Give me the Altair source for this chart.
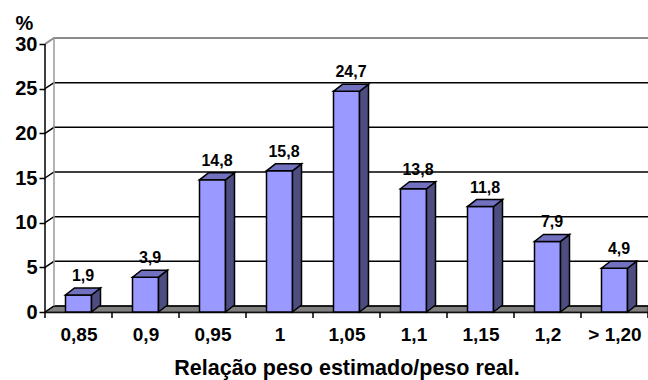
import json

import altair as alt
import pandas as pd

# Distribution of the estimated/real weight ratio (%)
categories = ["0,85", "0,9", "0,95", "1", "1,05", "1,1", "1,15", "1,2", "> 1,20"]
percent = [1.9, 3.9, 14.8, 15.8, 24.7, 13.8, 11.8, 7.9, 4.9]
y_ticks = [0, 5, 10, 15, 20, 25, 30]

FONT = "Liberation Sans"
FRONT = "#9999FF"
TOP = "#7171C0"
SIDE = "#4D4D80"
FLOOR = "#808080"

# Plot area and pseudo-3D depth, expressed through the scales
PLOT_W, PLOT_H = 603, 274
N = len(categories)
PX_X = PLOT_W / N          # pixels per category band
PX_Y = 268 / 30            # pixels per percentage point
Y_MAX = PLOT_H / PX_Y


def ux(px):
    return px / PX_X


def uy(px):
    return px / PX_Y


BAR_HALF = ux(13)
BAR_DX, BAR_DY = ux(9), uy(7)
WALL_DX, WALL_DY = ux(9), uy(6)

centers = [i + 0.5 for i in range(N)]

front = pd.DataFrame({
    "x": [c - BAR_HALF for c in centers],
    "x2": [c + BAR_HALF for c in centers],
    "lo": [0.0] * N,
    "hi": percent,
})

side_rows, top_rows = [], []
for i, (c, v) in enumerate(zip(centers, percent)):
    xl, xr = c - BAR_HALF, c + BAR_HALF
    side_rows += [
        {"bar": i, "x": xr, "lo": 0.0, "hi": v},
        {"bar": i, "x": xr + BAR_DX, "lo": BAR_DY, "hi": v + BAR_DY},
    ]
    top_rows += [
        {"bar": i, "x": xl, "lo": v, "hi": v},
        {"bar": i, "x": xl + BAR_DX, "lo": v, "hi": v + BAR_DY},
        {"bar": i, "x": xr, "lo": v, "hi": v + BAR_DY},
        {"bar": i, "x": xr + BAR_DX, "lo": v + BAR_DY, "hi": v + BAR_DY},
    ]
side = pd.DataFrame(side_rows)
top = pd.DataFrame(top_rows)

labels = pd.DataFrame({
    "x": [c + BAR_DX / 2 for c in centers],
    "y": [v + BAR_DY for v in percent],
    "text": [f"{v:.1f}".replace(".", ",") for v in percent],
})

grid_rows = []
for lvl in y_ticks:
    grid_rows += [
        {"lvl": lvl, "k": 0, "x": 0.0, "y": float(lvl)},
        {"lvl": lvl, "k": 1, "x": WALL_DX, "y": lvl + WALL_DY},
        {"lvl": lvl, "k": 2, "x": float(N), "y": lvl + WALL_DY},
    ]
grid = pd.DataFrame(grid_rows)
grid["top"] = grid["lvl"] == max(y_ticks)

floor = pd.DataFrame({
    "x": [0.0, WALL_DX, float(N)],
    "lo": [0.0, 0.0, 0.0],
    "hi": [0.0, WALL_DY, WALL_DY],
})

wall_edge = pd.DataFrame({
    "x": [WALL_DX, WALL_DX],
    "y": [WALL_DY, max(y_ticks) + WALL_DY],
    "k": [0, 1],
})

y_axis_line = pd.DataFrame({"x": [0.0], "y": [0.0], "y2": [float(max(y_ticks))]})
x_ticks = pd.DataFrame({"x": [float(i) for i in range(N + 1)]})

xs = alt.Scale(domain=[0, N], nice=False, zero=False)
ys = alt.Scale(domain=[0, Y_MAX], nice=False, zero=False)

label_expr = json.dumps(categories) + "[floor(datum.value)]"

x_axis = alt.Axis(
    values=centers, labelExpr=label_expr, ticks=False, tickSize=0,
    domain=True, domainColor="black", domainWidth=1.5, grid=False,
    labelFont=FONT, labelFontSize=19, labelFontWeight="bold", labelColor="black",
    labelPadding=13, labelFlush=False, labelOverlap=False,
    title="Relação peso estimado/peso real.", titleFont=FONT, titleFontSize=21.5,
    titleFontWeight="bold", titleColor="black", titleY=62,
    titleBaseline="alphabetic",
)
y_axis = alt.Axis(
    values=y_ticks, tickSize=6, tickColor="black", tickWidth=1.5,
    domain=False, grid=False,
    labelFont=FONT, labelFontSize=20, labelFontWeight="bold", labelColor="black",
    labelPadding=2, labelFlush=False,
    title="%", titleAngle=0, titleX=-21, titleY=-9, titleAlign="center",
    titleBaseline="alphabetic", titleFont=FONT, titleFontSize=20,
    titleFontWeight="bold", titleColor="black",
)


def X(field):
    return alt.X(field, scale=xs, axis=x_axis)


def Y(field):
    return alt.Y(field, scale=ys, axis=y_axis)


floor_layer = alt.Chart(floor).mark_area(fill=FLOOR, stroke="#202020", strokeWidth=1).encode(
    x=X("x:Q"), y=Y("lo:Q"), y2="hi:Q",
)

grid_black = alt.Chart(grid).transform_filter("!datum.top").mark_line(
    color="black", strokeWidth=1.5
).encode(x=X("x:Q"), y=Y("y:Q"), detail="lvl:N", order="k:Q")

grid_top = alt.Chart(grid).transform_filter("datum.top").mark_line(
    color="#8C8C8C", strokeWidth=2
).encode(x=X("x:Q"), y=Y("y:Q"), order="k:Q")

wall_layer = alt.Chart(wall_edge).mark_line(color="#9A9A9A", strokeWidth=1.5).encode(
    x=X("x:Q"), y=Y("y:Q"), order="k:Q",
)

y_line = alt.Chart(y_axis_line).mark_rule(color="black", strokeWidth=1.5).encode(
    x=X("x:Q"), y=Y("y:Q"), y2="y2:Q",
)

tick_layer = alt.Chart(x_ticks).mark_rule(color="black", strokeWidth=1.5).encode(
    x=X("x:Q"),
    y=alt.value(PLOT_H),
    y2=alt.value(PLOT_H + 6),
)

front_layer = alt.Chart(front).mark_rect(
    fill=FRONT, stroke="black", strokeWidth=1.5
).encode(x=X("x:Q"), x2="x2:Q", y=Y("lo:Q"), y2="hi:Q")

side_layer = alt.Chart(side).mark_area(
    fill=SIDE, stroke="black", strokeWidth=1.5, strokeJoin="miter"
).encode(x=X("x:Q"), y=Y("lo:Q"), y2="hi:Q", detail="bar:N")

top_layer = alt.Chart(top).mark_area(
    fill=TOP, stroke="black", strokeWidth=1.5, strokeJoin="miter"
).encode(x=X("x:Q"), y=Y("lo:Q"), y2="hi:Q", detail="bar:N")

label_layer = alt.Chart(labels).mark_text(
    font=FONT, fontSize=16, fontWeight="bold", color="black",
    baseline="alphabetic", dy=-7,
).encode(x=X("x:Q"), y=Y("y:Q"), text="text:N")

chart = alt.layer(
    floor_layer, grid_black, grid_top, wall_layer, y_line, tick_layer,
    front_layer, side_layer, top_layer, label_layer,
).properties(
    width=PLOT_W,
    height=PLOT_H,
    autosize=alt.AutoSizeParams(type="none"),
    padding={"left": 45, "top": 38, "right": 0, "bottom": 68},
    background="white",
).configure_view(stroke=None)

chart.save("out.html", embed_options={"renderer": "svg", "actions": False})
